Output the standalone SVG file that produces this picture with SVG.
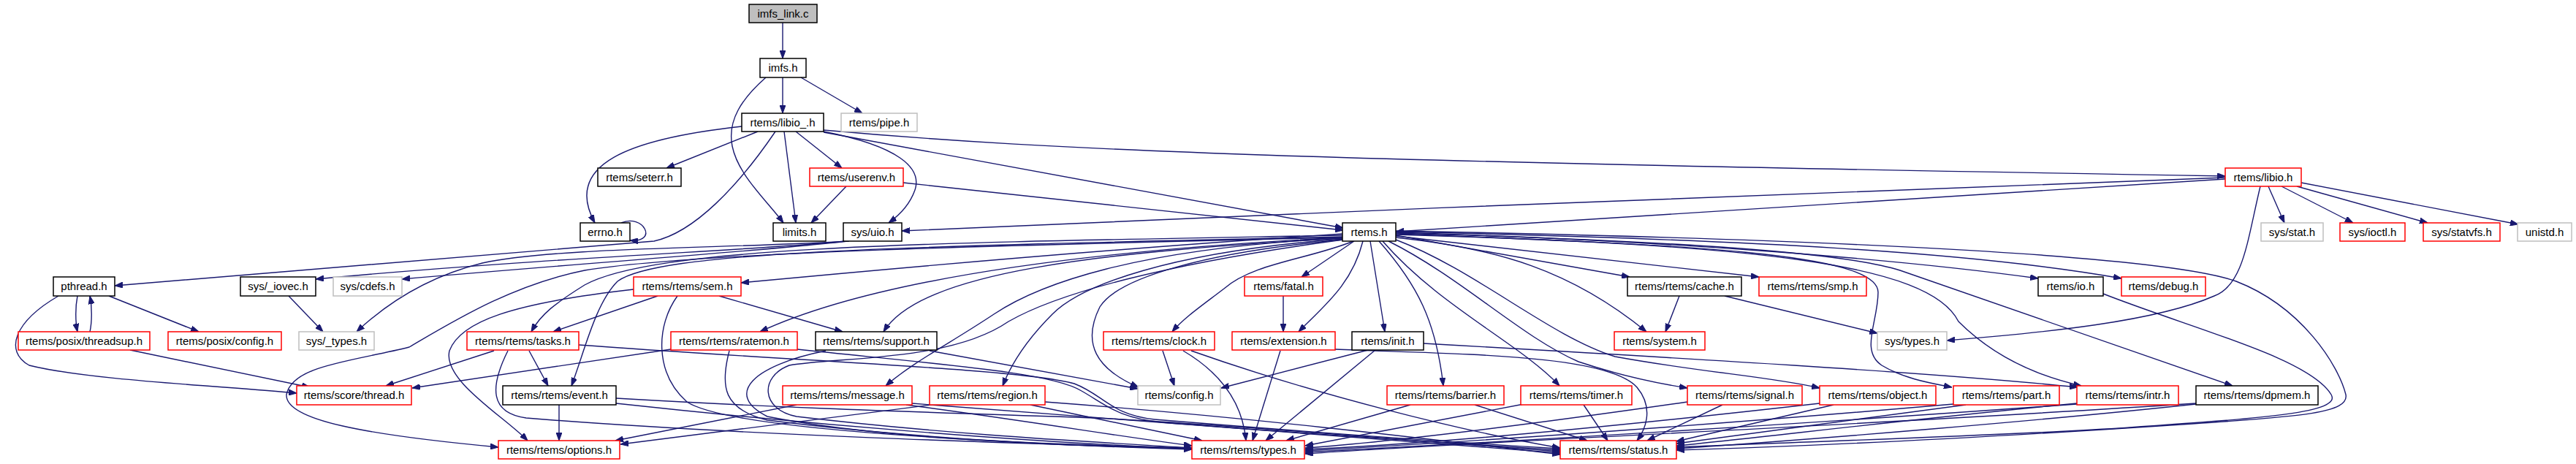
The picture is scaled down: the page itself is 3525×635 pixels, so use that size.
<svg xmlns="http://www.w3.org/2000/svg" width="3525" height="635" viewBox="0 0 3525 635">
<style>
.node rect{fill:#fff;stroke:#000;stroke-width:1.5}
.node.red rect{stroke:#ff0000}
.node.gray rect{stroke:#bfbfbf}
.node.root rect{fill:#bfbfbf}
.node text{font-family:"Liberation Sans",Arial,sans-serif;font-size:15px;fill:#000;text-anchor:middle}
#edges path{fill:none;stroke:#191970;stroke-width:1.4;marker-end:url(#a)}
</style>
<defs>
<marker id="a" markerWidth="11" markerHeight="8" refX="11" refY="4" orient="auto" markerUnits="userSpaceOnUse"><path d="M0,0 L11,4 L0,8 z" fill="#191970" stroke="#191970" stroke-width="1"/></marker>
</defs>
<rect width="3525" height="635" fill="#fff"/>
<g id="edges">
<path d="M1071,31 L1071,80"/>
<path d="M1071,106 L1071,155"/>
<path d="M1096,106 L1180,155"/>
<path d="M1048,106 C1015,135 995,165 1002,200 C1010,240 1050,275 1072,305"/>
<path d="M1073,180 L1089,305"/>
<path d="M1037,180 L912,230"/>
<path d="M1089,180 L1152,230"/>
<path d="M1127,180 C1230,200 1262,230 1252,260 C1245,280 1230,295 1216,305"/>
<path d="M1015,173 C860,190 770,225 814,305"/>
<path d="M850,305 C880,292 902,332 862,329"/>
<path d="M1061,180 C1010,255 950,318 895,330 L157,391"/>
<path d="M1127,181 L1838,312"/>
<path d="M1127,178 C1450,207 1800,220 3045,241"/>
<path d="M1236,250 L1838,315"/>
<path d="M1158,255 L1110,305"/>
<path d="M3045,245 L1910,317"/>
<path d="M3045,243 C2700,255 1800,290 1234,316"/>
<path d="M3104,255 L3126,305"/>
<path d="M3122,255 L3220,305"/>
<path d="M3143,255 L3322,305"/>
<path d="M3149,250 L3446,307"/>
<path d="M3093,255 C3075,330 3070,390 3030,405 C2950,440 2800,455 2664,466"/>
<path d="M1156,330 C1050,342 750,352 432,382"/>
<path d="M1160,330 C1050,343 800,360 550,382"/>
<path d="M1162,330 C1000,340 760,338 660,360 C600,375 540,405 488,454"/>
<path d="M395,405 L442,454"/>
<path d="M106,405 C103,420 103,440 106,454"/>
<path d="M123,454 C126,440 126,420 123,405"/>
<path d="M149,405 L272,454"/>
<path d="M80,405 C20,440 5,480 40,500 C120,520 300,528 406,538"/>
<path d="M178,479 L424,530"/>
<path d="M1837,320 C1600,335 1300,360 1014,387"/>
<path d="M1837,322 C1300,332 900,335 800,390 C760,415 740,430 727,454"/>
<path d="M1837,324 C1200,338 900,345 845,385 C815,415 800,480 782,528"/>
<path d="M1837,325 C1400,335 950,345 800,370 C700,390 620,440 560,475 C480,495 400,500 392,540 C390,575 500,595 682,612"/>
<path d="M1837,325 C1500,342 1200,380 1040,454"/>
<path d="M1837,326 C1500,345 1260,372 1209,454"/>
<path d="M1837,326 C1550,340 1420,390 1360,430 C1300,470 1250,495 1212,528"/>
<path d="M1837,327 C1600,345 1480,390 1440,430 C1410,460 1385,495 1372,528"/>
<path d="M1838,328 C1600,360 1450,400 1380,440 C1300,495 1150,488 1080,500 C1040,515 1040,560 1090,570 C1300,595 1500,605 1631,613"/>
<path d="M1838,328 C1650,345 1530,380 1505,420 C1480,470 1500,505 1558,530"/>
<path d="M1852,330 C1790,355 1715,360 1675,395 C1645,418 1620,435 1604,454"/>
<path d="M1853,330 L1781,379"/>
<path d="M1865,330 C1850,390 1810,420 1777,454"/>
<path d="M1756,405 L1756,454"/>
<path d="M1875,330 L1895,454"/>
<path d="M1887,330 C1940,390 1965,440 1975,528"/>
<path d="M1892,330 C1970,420 2080,470 2134,528"/>
<path d="M1900,330 C2000,380 2080,460 2160,495 C2220,515 2270,525 2309,531"/>
<path d="M1910,328 C2020,370 2120,460 2210,488 C2330,510 2420,515 2490,531"/>
<path d="M1910,322 L2230,379"/>
<path d="M1910,323 L2407,379"/>
<path d="M1910,325 C2050,340 2150,370 2253,454"/>
<path d="M2298,405 L2279,454"/>
<path d="M2360,405 L2569,456"/>
<path d="M1910,320 C2300,335 2570,345 2570,400 C2570,440 2545,480 2575,500 C2605,518 2640,524 2671,530"/>
<path d="M1910,321 C2400,335 2640,360 2680,440 C2730,490 2790,515 2848,528"/>
<path d="M1910,319 C2300,330 2520,345 2600,370 L3055,528"/>
<path d="M1910,318 C2300,330 2600,355 2789,381"/>
<path d="M1910,317 C2400,328 2700,345 2903,381"/>
<path d="M1910,316 C2400,325 2950,345 3060,385 C3150,420 3200,500 3210,540 C3215,565 3150,570 3000,580 C2700,600 2500,610 2294,616"/>
<path d="M2878,402 C3000,450 3160,490 3190,540 C3205,565 3100,572 2900,586 C2700,598 2450,605 2294,612"/>
<path d="M3005,553 C2800,575 2500,600 2294,614"/>
<path d="M3005,552 C2500,585 2100,600 1786,621"/>
<path d="M2842,552 C2600,575 2400,600 2294,610"/>
<path d="M2842,553 C2400,585 2050,605 1786,619"/>
<path d="M2690,554 L2294,607"/>
<path d="M2673,553 C2300,585 2000,605 1786,617"/>
<path d="M2509,554 L2294,604"/>
<path d="M2490,552 C2200,585 1950,608 1786,615"/>
<path d="M2357,554 L2254,603"/>
<path d="M2309,550 C2100,580 1900,605 1786,613"/>
<path d="M2167,554 L2200,603"/>
<path d="M2085,553 L1786,610"/>
<path d="M2018,554 L2172,603"/>
<path d="M1930,554 L1760,603"/>
<path d="M1872,479 L1671,531"/>
<path d="M1882,479 L1732,603"/>
<path d="M1948,470 C2300,490 2650,510 2843,530"/>
<path d="M1827,478 C2000,485 2200,485 2240,530 C2265,560 2250,590 2240,603"/>
<path d="M1752,480 L1714,603"/>
<path d="M1591,480 L1607,528"/>
<path d="M1619,480 C1670,510 1700,550 1705,603"/>
<path d="M1630,480 C1800,540 2000,590 2135,613"/>
<path d="M1272,480 L1557,532"/>
<path d="M1130,480 C1030,500 990,540 1050,570 C1200,600 1450,610 1631,614"/>
<path d="M918,478 L564,531"/>
<path d="M998,480 C985,530 990,560 1050,575 C1250,600 1450,610 1631,615"/>
<path d="M1091,478 C1300,500 1440,510 1480,535 C1515,555 1530,572 1590,578 C1800,595 2000,607 2135,616"/>
<path d="M676,480 L528,528"/>
<path d="M724,480 L750,528"/>
<path d="M695,480 C670,530 670,565 720,572 C1000,595 1400,607 1631,614"/>
<path d="M792,472 C1100,495 1400,505 1470,525 C1510,540 1520,568 1580,574 C1800,592 2000,606 2135,614"/>
<path d="M867,396 C700,415 630,440 615,480 C605,520 690,570 722,603"/>
<path d="M900,405 L757,454"/>
<path d="M984,405 L1153,454"/>
<path d="M927,405 C898,445 895,510 940,550 C1000,590 1400,608 1631,613"/>
<path d="M765,554 L765,603"/>
<path d="M843,545 C1100,560 1300,565 1500,572 C1700,582 1950,605 2135,618"/>
<path d="M843,552 C1100,580 1400,605 1631,614"/>
<path d="M1090,554 L842,603"/>
<path d="M1240,554 C1400,575 1550,600 1631,610"/>
<path d="M1248,552 C1450,570 1900,600 2135,620"/>
<path d="M1275,554 L849,608"/>
<path d="M1410,554 L1645,603"/>
<path d="M1430,550 C1700,570 1950,600 2135,622"/>
</g>
<g id="n_imfs_link_c" class="node root"><rect x="1025" y="6" width="93" height="25"/><text x="1071.5" y="23.5">imfs_link.c</text></g>
<g id="n_imfs_h" class="node"><rect x="1040" y="80" width="63" height="26"/><text x="1071.5" y="98">imfs.h</text></g>
<g id="n_libio__h" class="node"><rect x="1015" y="155" width="112" height="25"/><text x="1071" y="172.5">rtems/libio_.h</text></g>
<g id="n_pipe_h" class="node gray"><rect x="1151" y="155" width="104" height="25"/><text x="1203" y="172.5">rtems/pipe.h</text></g>
<g id="n_seterr_h" class="node"><rect x="818" y="230" width="114" height="25"/><text x="875" y="247.5">rtems/seterr.h</text></g>
<g id="n_userenv_h" class="node red"><rect x="1108" y="230" width="128" height="25"/><text x="1172" y="247.5">rtems/userenv.h</text></g>
<g id="n_libio_h" class="node red"><rect x="3045" y="230" width="104" height="25"/><text x="3097" y="247.5">rtems/libio.h</text></g>
<g id="n_errno_h" class="node"><rect x="794" y="305" width="68" height="25"/><text x="828" y="322.5">errno.h</text></g>
<g id="n_limits_h" class="node"><rect x="1058" y="305" width="72" height="25"/><text x="1094" y="322.5">limits.h</text></g>
<g id="n_sys_uio_h" class="node"><rect x="1154" y="305" width="80" height="25"/><text x="1194" y="322.5">sys/uio.h</text></g>
<g id="n_rtems_h" class="node"><rect x="1837" y="305" width="73" height="25"/><text x="1873.5" y="322.5">rtems.h</text></g>
<g id="n_sys_stat_h" class="node gray"><rect x="3094" y="305" width="85" height="25"/><text x="3136.5" y="322.5">sys/stat.h</text></g>
<g id="n_sys_ioctl_h" class="node red"><rect x="3202" y="305" width="89" height="25"/><text x="3246.5" y="322.5">sys/ioctl.h</text></g>
<g id="n_sys_statvfs_h" class="node red"><rect x="3316" y="305" width="105" height="25"/><text x="3368.5" y="322.5">sys/statvfs.h</text></g>
<g id="n_unistd_h" class="node gray"><rect x="3445" y="305" width="74" height="25"/><text x="3482" y="322.5">unistd.h</text></g>
<g id="n_pthread_h" class="node"><rect x="73" y="379" width="84" height="26"/><text x="115" y="397">pthread.h</text></g>
<g id="n_sys__iovec_h" class="node"><rect x="329" y="379" width="103" height="26"/><text x="380.5" y="397">sys/_iovec.h</text></g>
<g id="n_sys_cdefs_h" class="node gray"><rect x="456" y="379" width="94" height="26"/><text x="503" y="397">sys/cdefs.h</text></g>
<g id="n_sem_h" class="node red"><rect x="867" y="379" width="147" height="26"/><text x="940.5" y="397">rtems/rtems/sem.h</text></g>
<g id="n_fatal_h" class="node red"><rect x="1703" y="379" width="107" height="26"/><text x="1756.5" y="397">rtems/fatal.h</text></g>
<g id="n_cache_h" class="node"><rect x="2227" y="379" width="156" height="26"/><text x="2305" y="397">rtems/rtems/cache.h</text></g>
<g id="n_smp_h" class="node red"><rect x="2407" y="379" width="147" height="26"/><text x="2480.5" y="397">rtems/rtems/smp.h</text></g>
<g id="n_io_h" class="node"><rect x="2789" y="379" width="89" height="26"/><text x="2833.5" y="397">rtems/io.h</text></g>
<g id="n_debug_h" class="node red"><rect x="2903" y="379" width="115" height="26"/><text x="2960.5" y="397">rtems/debug.h</text></g>
<g id="n_threadsup_h" class="node red"><rect x="25" y="454" width="180" height="25"/><text x="115" y="471.5">rtems/posix/threadsup.h</text></g>
<g id="n_posix_config_h" class="node red"><rect x="230" y="454" width="155" height="25"/><text x="307.5" y="471.5">rtems/posix/config.h</text></g>
<g id="n_sys__types_h" class="node gray"><rect x="409" y="454" width="103" height="25"/><text x="460.5" y="471.5">sys/_types.h</text></g>
<g id="n_tasks_h" class="node red"><rect x="639" y="454" width="153" height="25"/><text x="715.5" y="471.5">rtems/rtems/tasks.h</text></g>
<g id="n_ratemon_h" class="node red"><rect x="918" y="454" width="173" height="25"/><text x="1004.5" y="471.5">rtems/rtems/ratemon.h</text></g>
<g id="n_support_h" class="node"><rect x="1116" y="454" width="166" height="25"/><text x="1199" y="471.5">rtems/rtems/support.h</text></g>
<g id="n_clock_h" class="node red"><rect x="1510" y="454" width="152" height="25"/><text x="1586" y="471.5">rtems/rtems/clock.h</text></g>
<g id="n_extension_h" class="node red"><rect x="1686" y="454" width="141" height="25"/><text x="1756.5" y="471.5">rtems/extension.h</text></g>
<g id="n_init_h" class="node"><rect x="1850" y="454" width="98" height="25"/><text x="1899" y="471.5">rtems/init.h</text></g>
<g id="n_system_h" class="node red"><rect x="2209" y="454" width="124" height="25"/><text x="2271" y="471.5">rtems/system.h</text></g>
<g id="n_sys_types_h" class="node gray"><rect x="2569" y="454" width="95" height="25"/><text x="2616.5" y="471.5">sys/types.h</text></g>
<g id="n_score_thread_h" class="node red"><rect x="406" y="528" width="157" height="26"/><text x="484.5" y="546">rtems/score/thread.h</text></g>
<g id="n_event_h" class="node"><rect x="688" y="528" width="155" height="26"/><text x="765.5" y="546">rtems/rtems/event.h</text></g>
<g id="n_message_h" class="node red"><rect x="1071" y="528" width="177" height="26"/><text x="1159.5" y="546">rtems/rtems/message.h</text></g>
<g id="n_region_h" class="node red"><rect x="1272" y="528" width="158" height="26"/><text x="1351" y="546">rtems/rtems/region.h</text></g>
<g id="n_config_h" class="node gray"><rect x="1557" y="528" width="113" height="26"/><text x="1613.5" y="546">rtems/config.h</text></g>
<g id="n_barrier_h" class="node red"><rect x="1898" y="528" width="160" height="26"/><text x="1978" y="546">rtems/rtems/barrier.h</text></g>
<g id="n_timer_h" class="node red"><rect x="2081" y="528" width="152" height="26"/><text x="2157" y="546">rtems/rtems/timer.h</text></g>
<g id="n_signal_h" class="node red"><rect x="2309" y="528" width="157" height="26"/><text x="2387.5" y="546">rtems/rtems/signal.h</text></g>
<g id="n_object_h" class="node red"><rect x="2490" y="528" width="159" height="26"/><text x="2569.5" y="546">rtems/rtems/object.h</text></g>
<g id="n_part_h" class="node red"><rect x="2673" y="528" width="145" height="26"/><text x="2745.5" y="546">rtems/rtems/part.h</text></g>
<g id="n_intr_h" class="node red"><rect x="2842" y="528" width="139" height="26"/><text x="2911.5" y="546">rtems/rtems/intr.h</text></g>
<g id="n_dpmem_h" class="node"><rect x="3005" y="528" width="167" height="26"/><text x="3088.5" y="546">rtems/rtems/dpmem.h</text></g>
<g id="n_options_h" class="node red"><rect x="682" y="603" width="166" height="25"/><text x="765" y="620.5">rtems/rtems/options.h</text></g>
<g id="n_types_h" class="node red"><rect x="1631" y="603" width="154" height="25"/><text x="1708" y="620.5">rtems/rtems/types.h</text></g>
<g id="n_status_h" class="node red"><rect x="2135" y="603" width="159" height="25"/><text x="2214.5" y="620.5">rtems/rtems/status.h</text></g>
</svg>
